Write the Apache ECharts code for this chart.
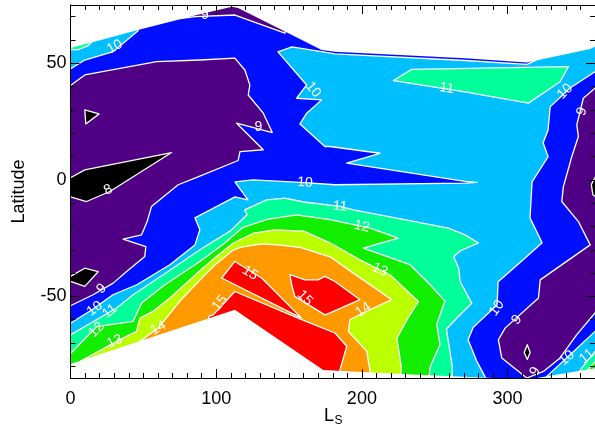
<!DOCTYPE html>
<html>
<head>
<meta charset="utf-8">
<script src="https://cdn.jsdelivr.net/npm/echarts@6/dist/echarts.min.js"></script>
<style>html,body{margin:0;padding:0;background:#fff}#c{width:595px;height:425px}</style>
</head>
<body>
<div id="c"></div>
<script>
// ---------- axis ticks ----------
const lsMajor = [0, 100, 200, 300];
const lsMinor = [10,20,30,40,50,60,70,80,90,110,120,130,140,150,160,170,180,190,210,220,230,240,250,260,270,280,290,310,320,330,340,350];
const latMajor = [-50, 0, 50];
const latMinor = [-80,-70,-60,-40,-30,-20,-10,10,20,30,40,60,70];

// ---------- contour regions: [Ls, latitude] vertices ----------
const dataArea = [[-10,-100],[370,-100],[370,100],[-10,100]];
const lt9Left = [[0,40.5],[9.8,45],[59.1,50.7],[88.8,51.4],[112.8,52.2],[119.7,47.1],[123.1,40.7],[122,36.4],[132.3,28.6],[138.5,20.3],[114,24.3],[132.3,12.9],[116.3,12.1],[115.1,8.3],[85.4,0.7],[73.9,-2.1],[55.6,-11.4],[52.6,-17.9],[48.8,-23.6],[36.1,-25.4],[51.7,-28.6],[51,-32.9],[38.5,-39.3],[29.3,-44.3],[15.5,-49.3],[0,-54],[-5,-54],[-5,40.5]];
const lt9Top = [[75,69.2],[85.5,70],[112.9,70.7],[147.2,62.9],[150,80],[75,80]];
const lt9Right = [[365,39.3],[360,39.3],[352,35],[347.5,23.6],[348.6,18.6],[344.1,10],[338.3,-2.9],[337.2,-9.3],[348.6,-17.9],[356.7,-27.9],[322.4,-42.9],[321.2,-50.7],[298.3,-63.6],[293.7,-68.6],[296,-76.4],[313.2,-85],[324.6,-82.2],[336,-76.4],[347.5,-66.4],[360,-57.1],[365,-57.1]];
const lt8A = [[9.8,30],[19.6,28.3],[10.5,24]];
const lt8B = [[-5,0.9],[0,0.9],[9.8,4.3],[69.4,11.7],[27,-5],[11,-9.3],[0,-7.3],[-5,-7.3]];
const lt8C = [[-5,-41.4],[0,-41.4],[9.8,-37.9],[19,-39.4],[9.8,-45.7],[0,-43.6],[-5,-43.6]];
const lt8D = [[365,1],[360,1],[357.5,-2],[358.5,-6.4],[360,-7],[365,-7]];
const lt8E = [[313.5,-70.7],[315.5,-74.1],[313.5,-77.1],[311.4,-74.1]];
const ge10TopLeft = [[-5,47.6],[0,47.6],[9.8,51.4],[29.3,55],[46.4,64],[50,80],[-5,80]];
const ge10Main = [[142.4,54.9],[152,57],[173.3,54.9],[181.5,54],[270.8,51.2],[313.4,49.5],[365,65],[365,46.4],[360,46.4],[342.9,39.4],[329.2,31.3],[327.8,21.4],[324.4,15.9],[327.8,9.9],[316.8,-0.9],[315.4,-16.3],[323.7,-27],[310.7,-34.3],[293.5,-43.7],[292.8,-53.6],[276.3,-63.4],[272.9,-68.6],[279,-78],[284.5,-84.4],[286,-95],[-5,-95],[-5,-61.5],[0,-61.5],[15.3,-55.5],[29.1,-49.3],[45.5,-45],[68.2,-36.4],[85.4,-27.9],[88.8,-21.4],[85.4,-16.3],[112.9,-7.3],[121.8,-8.6],[114.2,-2.1],[112.9,-0.9],[125.2,0],[160.9,-1.2],[181.5,-2.1],[270.8,-1.4],[279,-1.1],[270.8,-0.7],[189.6,7.2],[212.4,11.4],[178.1,14.3],[174.6,14.3],[157.5,24],[162.1,28.6],[172.4,34.3],[155.2,35],[162.1,40.7]];
const ge10BotRight = [[326.9,-84.3],[342.9,-75],[360,-65],[365,-65],[365,-95],[326,-95]];
const ge11TopLeft = [[-5,56],[5,55.8],[12,57.5],[16,60],[16,80],[-5,80]];
const ge11Top = [[221.6,42.6],[234.2,47.4],[341.8,48.6],[336,42.1],[314.3,32.9],[270.8,37.7]];
const ge11Main = [[-5,-66.5],[0,-66.5],[31.6,-55],[43,-49.3],[63.6,-40.7],[88.8,-30],[109.5,-22],[121.2,-15],[119.5,-12.9],[134.6,-8.6],[147.2,-7.8],[160,-9.5],[185,-11.4],[194.1,-12.9],[223.9,-16.4],[259.3,-20.7],[270.8,-23.6],[280,-27.1],[267.4,-30.5],[263,-33],[266.5,-38],[267.4,-43.6],[275.4,-52.9],[267.4,-57.9],[258,-64],[260,-72],[262,-80],[262,-95],[-5,-95]];
const ge11BotRight = [[346.4,-84.3],[360,-73.6],[365,-73.6],[365,-95],[346,-95]];
const ge12Main = [[-5,-74.5],[0,-74.5],[17.9,-63],[43,-60.7],[48.8,-52.8],[64.8,-45],[88.8,-35],[105,-27.5],[118,-20.5],[135,-17],[155.2,-15],[178.1,-17.1],[205.6,-20.7],[225,-25],[201,-29.3],[233,-36.4],[246.8,-45],[257,-52],[251.4,-62],[253.6,-70.7],[247,-80],[244,-95],[-5,-95]];
const ge12BotRight = [[355,-81.5],[360,-78],[365,-78],[365,-95],[355,-95]];
const ge13Main = [[0,-95],[6.4,-77.9],[31.6,-69.3],[45.3,-65],[47.6,-59.3],[56.7,-56.4],[68.2,-50.7],[88.8,-39],[100,-33],[112,-27],[125,-23],[140,-21.5],[160,-22],[178.1,-27],[198.7,-34.3],[219.3,-40.7],[238.8,-52.2],[231,-60],[224,-68],[227,-80],[226,-95]];
const ge14Main = [[44,-95],[44,-80],[47.6,-69.2],[60.2,-63.6],[75.1,-52],[88.8,-43],[99.1,-36.5],[110.8,-30.5],[116.3,-29],[131.4,-27.5],[143.8,-28],[157.5,-29],[178.1,-33],[194.1,-40],[220.5,-51.4],[201,-57],[191.8,-60],[190.7,-65],[203.3,-73.6],[205.6,-82.2],[205,-95]];
const ge15Low = [[95,-95],[95,-58.5],[98,-57.9],[112.8,-47.9],[158.6,-60],[181.5,-65.7],[189.6,-71.4],[185,-81.4],[185,-95]];
const ge15West = [[103.8,-42.1],[112.8,-35],[131.2,-42.1],[158.6,-59.3]];
const ge15East = [[150.6,-40.7],[161,-42.9],[170,-42.9],[174.6,-41.4],[181.5,-43.6],[198.7,-51.4],[178.1,-57.1],[174.6,-57.9],[154,-50],[151.8,-45]];
const noDataTop = [[-10,56.6],[0,56.6],[13.3,58.7],[46.2,64.3],[86.7,70.7],[110.8,74.3],[115,73.7],[147.2,63.6],[172.4,55.7],[181.5,55],[270.8,52.2],[313.2,50.3],[356.7,56.1],[360,57.1],[370,57.1],[370,100],[-10,100]];
const noDataBottom = [[-10,-79],[0,-79],[112.8,-55.7],[173.5,-81.6],[238,-83.6],[290,-85],[320,-85],[360,-80.8],[370,-80.8],[370,-100],[-10,-100]];

// ---------- contour labels: [Ls, latitude, text, angle] ----------
const contourLabels = [
  [30.4,57.1,'10',28],[92.2,70.7,'9',3],[166.6,38.6,'10',-50],[128.9,22.8,'9',0],
  [160.9,-1.2,'10',-3],[258.2,39.3,'11',-8],[339.5,37.9,'10',45],[351,29.3,'9',70],
  [25.8,-4.3,'8',25],[21.3,-46.7,'9',42],[16.7,-55.3,'10',38],[27,-56.4,'11',38],
  [17.9,-64.3,'12',45],[30.4,-69.3,'13',25],[60.2,-63.6,'14',30],
  [123.2,-40,'15',-32],[102.5,-52.8,'15',50],[161,-50.7,'15',-45],
  [185,-11.4,'11',-5],[199.9,-20,'12',-12],[212.4,-38.6,'13',-25],[201,-55.7,'14',35],
  [292.6,-55,'10',55],[306.3,-60,'9',50],[318.9,-82.2,'9',60],[340.7,-76.4,'10',40],[354.4,-75.7,'11',40]
];

// ---------- drawing ----------
const bandColor = {
  b7: '#000000', b8: '#4f0085', b9: '#0010ff', b10: '#00bfff', b11: '#00ff99',
  b12: '#11ee00', b13: '#bbff00', b14: '#ff9900', b15: '#ff0000', none: '#ffffff'
};
const layers = [
  ['b9', dataArea, false],
  ['b8', lt9Left], ['b8', lt9Top], ['b8', lt9Right],
  ['b7', lt8A], ['b7', lt8B], ['b7', lt8C], ['b7', lt8D], ['b7', lt8E],
  ['b10', ge10TopLeft], ['b10', ge10Main], ['b10', ge10BotRight],
  ['b11', ge11TopLeft], ['b11', ge11Top], ['b11', ge11Main], ['b11', ge11BotRight],
  ['b12', ge12Main], ['b12', ge12BotRight],
  ['b13', ge13Main],
  ['b14', ge14Main],
  ['b15', ge15Low], ['b15', ge15West], ['b15', ge15East],
  ['none', noDataTop, false], ['none', noDataBottom, false]
];

const chart = echarts.init(document.getElementById('c'), null, {renderer: 'canvas'});
const FONT = '"Liberation Sans", Arial, Helvetica, sans-serif';
const blk = '#000';
function axisX(pos, vals, len, labels) {
  return {
    type: 'value', position: pos, min: 0, max: 360, z: 10,
    axisLine: {show: true, onZero: false, lineStyle: {color: blk, width: 1}},
    axisTick: {show: true, inside: true, length: len, customValues: vals, lineStyle: {color: blk, width: 1}},
    axisLabel: labels ? {show: true, customValues: vals, margin: 12, fontSize: 18, color: blk, fontFamily: FONT} : {show: false},
    splitLine: {show: false}
  };
}
function axisY(pos, vals, len, labels) {
  return {
    type: 'value', position: pos, min: -85, max: 75, z: 10,
    axisLine: {show: true, onZero: false, lineStyle: {color: blk, width: 1}},
    axisTick: {show: true, inside: true, length: len, customValues: vals, lineStyle: {color: blk, width: 1}},
    axisLabel: labels ? {show: true, customValues: vals, margin: 4, fontSize: 18, color: blk, fontFamily: FONT} : {show: false},
    splitLine: {show: false}
  };
}
const xA = [axisX('bottom', lsMajor, 9, true), axisX('bottom', lsMinor, 5, false), axisX('top', lsMajor, 9, false), axisX('top', lsMinor, 5, false)];
const yA = [axisY('left', latMajor, 9, true), axisY('left', latMinor, 5, false), axisY('right', latMajor, 9, false), axisY('right', latMinor, 5, false)];
yA[0].name = 'Latitude';
yA[0].nameLocation = 'middle';
yA[0].nameGap = 42;
yA[0].nameRotate = 90;
yA[0].nameTextStyle = {fontSize: 18, color: blk, fontFamily: FONT};

chart.setOption({
  animation: false,
  backgroundColor: '#fff',
  grid: {left: 70.5, top: 5, width: 524.5, height: 373, containLabel: false, outerBoundsMode: 'none'},
  xAxis: xA,
  yAxis: yA,
  graphic: [
    {type: 'text', left: 324, top: 407, z: 20, style: {text: 'L', fill: blk, font: '18px ' + FONT}},
    {type: 'text', left: 334.5, top: 415, z: 20, style: {text: 'S', fill: blk, font: '12px ' + FONT}}
  ],
  series: [
    {
      type: 'custom', coordinateSystem: 'cartesian2d', xAxisIndex: 0, yAxisIndex: 0, clip: true, z: 2,
      data: layers.map((l, i) => [l[1][0][0], l[1][0][1], i]),
      encode: {x: 0, y: 1},
      renderItem: function (params, api) {
        const L = layers[params.dataIndex];
        const stroke = L[2] !== false;
        return {
          type: 'polygon',
          shape: {points: L[1].map(p => api.coord(p))},
          style: {fill: bandColor[L[0]], stroke: stroke ? '#fff' : null, lineWidth: stroke ? 1.3 : 0, lineJoin: 'round'}
        };
      }
    },
    {
      type: 'custom', coordinateSystem: 'cartesian2d', xAxisIndex: 0, yAxisIndex: 0, clip: true, z: 3,
      data: contourLabels.map(d => [d[0], d[1]]),
      encode: {x: 0, y: 1},
      renderItem: function (params, api) {
        const d = contourLabels[params.dataIndex];
        const c = api.coord([d[0], d[1]]);
        return {
          type: 'text', x: c[0], y: c[1], rotation: d[3] * Math.PI / 180,
          style: {text: d[2], fill: '#fff', font: '14px ' + FONT, align: 'center', verticalAlign: 'middle'}
        };
      }
    }
  ]
});
</script>
</body>
</html>
